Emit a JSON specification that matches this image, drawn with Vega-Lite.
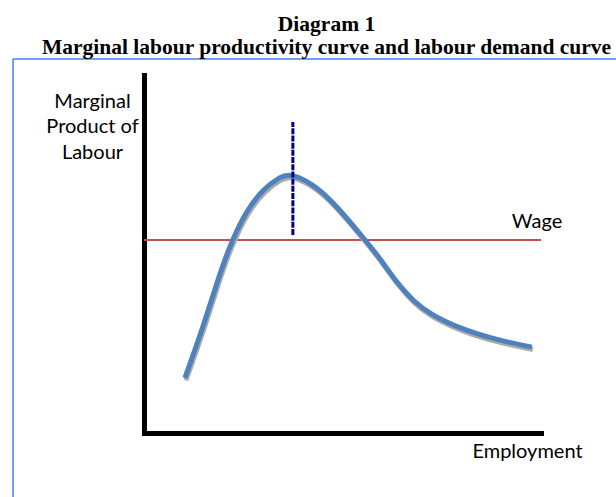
{
  "$schema": "https://vega.github.io/schema/vega-lite/v6.json",
  "width": 397,
  "height": 358,
  "autosize": "none",
  "padding": {"left": 144, "top": 75, "right": 75, "bottom": 64},
  "background": "white",
  "config": {"view": {"stroke": null}},
  "title": {
    "text": "Diagram 1",
    "subtitle": "Marginal labour productivity curve and labour demand curve",
    "anchor": "middle",
    "frame": "group",
    "dx": -16,
    "offset": 0,
    "font": "Liberation Serif",
    "fontSize": 21.5,
    "fontWeight": "bold",
    "color": "black",
    "subtitleFont": "Liberation Serif",
    "subtitleFontSize": 21.5,
    "subtitleFontWeight": "bold",
    "subtitleColor": "black",
    "subtitlePadding": 1
  },
  "encoding": {
    "x": {
      "field": "x", "type": "quantitative",
      "scale": {"domain": [0, 100], "nice": false, "zero": false},
      "axis": {
        "title": "Employment", "domain": true, "domainColor": "black", "domainWidth": 5, "domainCap": "square",
        "ticks": false, "labels": false, "grid": false,
        "titleFont": "Lato", "titleFontSize": 20, "titleFontWeight": "normal", "titleColor": "black",
        "titleX": 383, "titleY": 24, "titleAlign": "center", "titleBaseline": "alphabetic"
      }
    },
    "y": {
      "field": "y", "type": "quantitative",
      "scale": {"domain": [0, 100], "nice": false, "zero": false},
      "axis": {
        "title": ["Marginal", "Product of", "Labour"], "domain": true, "domainColor": "black", "domainWidth": 5, "domainCap": "square",
        "ticks": false, "labels": false, "grid": false,
        "titleFont": "Lato", "titleFontSize": 20, "titleFontWeight": "normal", "titleColor": "black",
        "titleAngle": 0, "titleX": -52, "titleY": 16, "titleAlign": "center", "titleBaseline": "top", "titleLineHeight": 25.5
      }
    }
  },
  "layer": [
    {
      "data": {"values": [
        {"x": -33, "y": -30, "x2": -33, "y2": 104.5},
        {"x": -33, "y": 104.5, "x2": 125, "y2": 104.5}
      ]},
      "mark": {"type": "rule", "color": "#4A7EE8", "strokeWidth": 1.5, "clip": false},
      "encoding": {"x2": {"field": "x2"}, "y2": {"field": "y2"}}
    },
    {
      "data": {"values": [{"x": 0, "x2": 100, "y": 53.9}]},
      "mark": {"type": "rule", "color": "#C0504D", "strokeWidth": 2},
      "encoding": {"x2": {"field": "x2"}}
    },
    {
      "data": {"name": "curve", "values": [
        {"x": 10.3, "y": 15.4},
        {"x": 14.9, "y": 29.6},
        {"x": 19.1, "y": 44.7},
        {"x": 22.2, "y": 53.9},
        {"x": 25.9, "y": 62.3},
        {"x": 30.0, "y": 68.1},
        {"x": 34.3, "y": 71.6},
        {"x": 37.0, "y": 72.6},
        {"x": 43.6, "y": 68.9},
        {"x": 49.4, "y": 62.3},
        {"x": 55.7, "y": 53.9},
        {"x": 59.4, "y": 48.9},
        {"x": 63.5, "y": 42.2},
        {"x": 67.8, "y": 36.9},
        {"x": 72.0, "y": 33.2},
        {"x": 80.4, "y": 28.8},
        {"x": 88.9, "y": 26.0},
        {"x": 97.7, "y": 24.0}
      ]},
      "layer": [
        {"mark": {"type": "line", "color": "#ABABAB", "strokeWidth": 5, "interpolate": "basis", "xOffset": 1, "yOffset": 2.5}},
        {"mark": {"type": "line", "color": "#4F81BD", "strokeWidth": 5, "interpolate": "basis"}}
      ]
    },
    {
      "data": {"values": [{"x": 37.5, "y": 55.3, "y2": 86.9}]},
      "mark": {"type": "rule", "color": "#000080", "strokeWidth": 3, "strokeDash": [6, 1.2]},
      "encoding": {"y2": {"field": "y2"}}
    },
    {
      "data": {"values": [{"x": 99, "y": 57.3, "label": "Wage"}]},
      "mark": {"type": "text", "font": "Lato", "fontSize": 20, "color": "black", "align": "center", "baseline": "alphabetic", "clip": false},
      "encoding": {"text": {"field": "label"}}
    }
  ]
}
